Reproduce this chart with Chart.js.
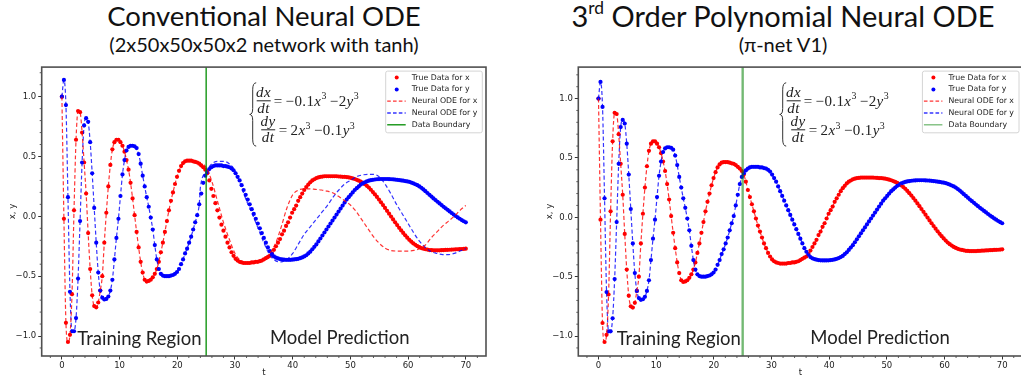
<!DOCTYPE html>
<html>
<head>
<meta charset="utf-8">
<script src="https://cdn.jsdelivr.net/npm/chart.js@4.4.1/dist/chart.umd.min.js"></script>
<style>
html, body { margin: 0; padding: 0; background: #fff; width: 1021px; height: 387px; overflow: hidden; position: relative; }
.title { position: absolute; text-align: center; color: #111; white-space: nowrap; font-family: Lato, sans-serif; line-height: 1; }
.title sup { font-size: 0.6em; vertical-align: 0.75em; line-height: 0; }
.box { position: absolute; }
</style>
</head>
<body>
<div class="title" style="left:14px;width:500px;top:2px;font-size:27.5px;">Conventional Neural ODE</div>
<div class="title" style="left:14px;width:500px;top:34px;font-size:20px;">(2x50x50x50x2 network with tanh)</div>
<div class="title" style="left:533px;width:500px;top:1px;font-size:29px;">3<sup>rd</sup> Order Polynomial Neural ODE</div>
<div class="title" style="left:533px;width:500px;top:34px;font-size:20px;">(π-net V1)</div>
<div class="box" style="left:0;top:60px;width:510px;height:327px"><canvas id="convChart"></canvas></div>
<div class="box" style="left:510px;top:60px;width:530px;height:327px"><canvas id="polyChart"></canvas></div>
<script>
// ---------- values ----------
// sample times of the true trajectory
var tTrue = [0, 0.35, 0.7, 1.05, 1.4, 1.75, 2.1, 2.45, 2.8, 3.15, 3.5, 3.85, 4.2, 4.55, 4.9, 5.25, 5.6, 5.95, 6.3, 6.65,
  7, 7.35, 7.7, 8.05, 8.4, 8.75, 9.1, 9.45, 9.8, 10.15, 10.5, 10.85, 11.2, 11.55, 11.9, 12.25, 12.6, 12.95, 13.3, 13.65,
  14, 14.35, 14.7, 15.05, 15.4, 15.75, 16.1, 16.45, 16.8, 17.15, 17.5, 17.85, 18.2, 18.55, 18.9, 19.25, 19.6, 19.95, 20.3, 20.65,
  21, 21.35, 21.7, 22.05, 22.4, 22.75, 23.1, 23.45, 23.8, 24.15, 24.5, 24.85, 25.2, 25.55, 25.9, 26.25, 26.6, 26.95, 27.3, 27.65,
  28, 28.35, 28.7, 29.05, 29.4, 29.75, 30.1, 30.45, 30.8, 31.15, 31.5, 31.85, 32.2, 32.55, 32.9, 33.25, 33.6, 33.95, 34.3, 34.65,
  35, 35.35, 35.7, 36.05, 36.4, 36.75, 37.1, 37.45, 37.8, 38.15, 38.5, 38.85, 39.2, 39.55, 39.9, 40.25, 40.6, 40.95, 41.3, 41.65,
  42, 42.35, 42.7, 43.05, 43.4, 43.75, 44.1, 44.45, 44.8, 45.15, 45.5, 45.85, 46.2, 46.55, 46.9, 47.25, 47.6, 47.95, 48.3, 48.65,
  49, 49.35, 49.7, 50.05, 50.4, 50.75, 51.1, 51.45, 51.8, 52.15, 52.5, 52.85, 53.2, 53.55, 53.9, 54.25, 54.6, 54.95, 55.3, 55.65,
  56, 56.35, 56.7, 57.05, 57.4, 57.75, 58.1, 58.45, 58.8, 59.15, 59.5, 59.85, 60.2, 60.55, 60.9, 61.25, 61.6, 61.95, 62.3, 62.65,
  63, 63.35, 63.7, 64.05, 64.4, 64.75, 65.1, 65.45, 65.8, 66.15, 66.5, 66.85, 67.2, 67.55, 67.9, 68.25, 68.6, 68.95, 69.3, 69.65, 70];

// true data for x (red dots)
var xTrue = [1.00, -0.02, -0.89, -1.05, -0.99, -0.65, 0.05, 0.64, 0.88, 0.87,
  0.70, 0.45, 0.19, -0.14, -0.44, -0.66, -0.75, -0.76, -0.72, -0.62,
  -0.50, -0.22, 0.03, 0.25, 0.43, 0.56, 0.62, 0.64, 0.64, 0.62,
  0.59, 0.54, 0.47, 0.39, 0.28, 0.15, 0.01, -0.13, -0.26, -0.38,
  -0.47, -0.53, -0.545, -0.54, -0.53, -0.51, -0.48, -0.44, -0.38, -0.30,
  -0.22, -0.13, -0.04, 0.05, 0.13, 0.20, 0.27, 0.33, 0.38, 0.42,
  0.445, 0.46, 0.465, 0.465, 0.465, 0.46, 0.455, 0.45, 0.44, 0.425,
  0.41, 0.39, 0.36, 0.30, 0.23, 0.17, 0.11, 0.05, -0.01, -0.07,
  -0.12, -0.17, -0.22, -0.26, -0.30, -0.33, -0.355, -0.37, -0.38, -0.385,
  -0.39, -0.39, -0.39, -0.39, -0.385, -0.385, -0.38, -0.38, -0.375, -0.37,
  -0.36, -0.35, -0.34, -0.33, -0.31, -0.28, -0.25, -0.22, -0.19, -0.15,
  -0.12, -0.08, -0.05, -0.01, 0.03, 0.06, 0.09, 0.13, 0.16, 0.19,
  0.22, 0.245, 0.265, 0.285, 0.30, 0.31, 0.32, 0.325, 0.33, 0.332,
  0.335, 0.335, 0.335, 0.335, 0.335, 0.335, 0.335, 0.333, 0.332, 0.33,
  0.33, 0.328, 0.325, 0.322, 0.317, 0.312, 0.305, 0.298, 0.29, 0.28,
  0.268, 0.255, 0.24, 0.222, 0.203, 0.183, 0.162, 0.14, 0.117, 0.094,
  0.07, 0.046, 0.022, -0.002, -0.026, -0.05, -0.073, -0.096, -0.118, -0.139,
  -0.159, -0.178, -0.196, -0.212, -0.226, -0.238, -0.249, -0.258, -0.265, -0.271,
  -0.275, -0.278, -0.282, -0.283, -0.284, -0.284, -0.284, -0.284, -0.283, -0.282,
  -0.281, -0.28, -0.279, -0.278, -0.277, -0.276, -0.275, -0.274, -0.273, -0.272, -0.27];

// true data for y (blue dots)
var yTrue = [1.00, 1.14, 0.93, 0.16, -0.63, -0.96, -0.96, -0.85, -0.52, -0.04,
  0.45, 0.76, 0.82, 0.79, 0.62, 0.36, 0.07, -0.22, -0.47, -0.62,
  -0.68, -0.695, -0.69, -0.67, -0.62, -0.53, -0.36, -0.18, -0.02, 0.17,
  0.35, 0.47, 0.55, 0.58, 0.59, 0.59, 0.585, 0.57, 0.52, 0.44,
  0.34, 0.25, 0.16, 0.08, -0.01, -0.11, -0.24, -0.36, -0.44, -0.48,
  -0.495, -0.50, -0.50, -0.50, -0.495, -0.49, -0.48, -0.465, -0.44, -0.40,
  -0.36, -0.31, -0.27, -0.22, -0.17, -0.11, -0.05, 0.01, 0.10, 0.19,
  0.28, 0.34, 0.37, 0.395, 0.41, 0.42, 0.425, 0.425, 0.425, 0.425,
  0.42, 0.42, 0.415, 0.41, 0.40, 0.385, 0.36, 0.33, 0.30, 0.26,
  0.22, 0.18, 0.14, 0.10, 0.06, 0.02, -0.02, -0.06, -0.10, -0.14,
  -0.18, -0.22, -0.26, -0.29, -0.315, -0.335, -0.345, -0.352, -0.357, -0.36,
  -0.362, -0.363, -0.363, -0.363, -0.362, -0.36, -0.358, -0.355, -0.35, -0.343,
  -0.335, -0.325, -0.31, -0.295, -0.275, -0.255, -0.235, -0.21, -0.185, -0.16,
  -0.135, -0.11, -0.085, -0.06, -0.035, -0.01, 0.015, 0.04, 0.065, 0.09,
  0.115, 0.14, 0.16, 0.18, 0.20, 0.22, 0.235, 0.25, 0.265, 0.275,
  0.285, 0.292, 0.298, 0.302, 0.305, 0.308, 0.31, 0.311, 0.312, 0.312,
  0.312, 0.312, 0.311, 0.31, 0.309, 0.307, 0.305, 0.303, 0.30, 0.298,
  0.295, 0.292, 0.288, 0.282, 0.276, 0.268, 0.26, 0.25, 0.238, 0.225,
  0.21, 0.195, 0.18, 0.165, 0.15, 0.136, 0.122, 0.108, 0.094, 0.08,
  0.067, 0.054, 0.041, 0.028, 0.015, 0.003, -0.009, -0.02, -0.031, -0.041, -0.05];

// conventional neural ODE after the training window (where it drifts away)
var tNodeExtra = [24, 25, 26, 27, 28, 29, 30, 31, 32, 33, 34, 35, 36, 37, 38, 39, 40, 41, 42, 43, 44, 45, 46, 47,
  48, 49, 50, 51, 52, 53, 54, 55, 56, 57, 58, 59, 60, 61, 62, 63, 64, 65, 66, 67, 68, 69, 70];
var xNodeExtra = [0.44, 0.41, 0.29, 0.12, -0.05, -0.19, -0.31, -0.37, -0.385, -0.385, -0.375, -0.35, -0.31, -0.23, -0.09, 0.07,
  0.18, 0.22, 0.23, 0.23, 0.225, 0.22, 0.21, 0.195, 0.165, 0.13, 0.095, 0.04, -0.03, -0.10, -0.17, -0.225,
  -0.265, -0.285, -0.29, -0.29, -0.29, -0.285, -0.27, -0.24, -0.18, -0.13, -0.08, -0.04, 0.0, 0.05, 0.09];
var yNodeExtra = [0.24, 0.37, 0.44, 0.46, 0.46, 0.44, 0.38, 0.26, 0.13, 0.02, -0.10, -0.22, -0.32, -0.37, -0.38, -0.36,
  -0.31, -0.23, -0.15, -0.09, -0.03, 0.03, 0.09, 0.16, 0.22, 0.27, 0.30, 0.33, 0.345, 0.35, 0.35, 0.33,
  0.27, 0.19, 0.10, 0.02, -0.06, -0.14, -0.21, -0.26, -0.295, -0.31, -0.32, -0.32, -0.31, -0.29, -0.27];

var boundaryT = 25;
var xTicks = [0, 10, 20, 30, 40, 50, 60, 70];
var yTicks = [-1.0, -0.5, 0.0, 0.5, 1.0];
var legendLabels = ['True Data for x', 'True Data for y', 'Neural ODE for x', 'Neural ODE for y', 'Data Boundary'];

// ---------- helpers ----------
function pts(ts, vs) {
  return ts.map(function (t, i) { return { x: t, y: vs[i] }; });
}

var cut = tTrue.findIndex(function (t) { return t >= 24; });
var nodeXConv = pts(tTrue.slice(0, cut), xTrue.slice(0, cut)).concat(pts(tNodeExtra, xNodeExtra));
var nodeYConv = pts(tTrue.slice(0, cut), yTrue.slice(0, cut)).concat(pts(tNodeExtra, yNodeExtra));

var RED = 'rgb(255,0,0)', BLUE = 'rgb(0,0,255)';
var RED_D = 'rgba(255,0,0,0.8)', BLUE_D = 'rgba(0,0,255,0.8)';

// one line of the equation: upright / italic / superscript pieces
function drawRuns(ctx, x, y, runs, size) {
  runs.forEach(function (r) {
    var fs = r.sup ? size * 0.66 : size;
    ctx.font = (r.it ? 'italic ' : '') + fs + 'px "Liberation Serif"';
    ctx.letterSpacing = r.sup ? '0px' : '0.4px';
    x += r.gap || 0;
    ctx.fillText(r.t, x, r.sup ? y - size * 0.42 : y);
    x += ctx.measureText(r.t).width;
  });
  ctx.letterSpacing = '0px';
}

function drawFrac(ctx, x, w, numY, barY, denY, num, den, size) {
  ctx.font = 'italic ' + size + 'px "Liberation Serif"';
  ctx.letterSpacing = '0.5px';
  ctx.textAlign = 'center';
  ctx.fillText(num, x + w / 2, numY);
  ctx.fillText(den, x + w / 2, denY);
  ctx.textAlign = 'left';
  ctx.letterSpacing = '0px';
  ctx.fillRect(x, barY - 0.5, w, 1);
}

// equation, legend, boundary, captions and frame drawn on top of the data
var decoPlugin = {
  id: 'deco',
  afterDatasetsDraw: function (chart, args, o) {
    var ctx = chart.ctx, ca = chart.chartArea, xs = chart.scales.x;
    ctx.save();
    // data boundary
    var bx = xs.getPixelForValue(boundaryT);
    ctx.strokeStyle = o.green;
    ctx.lineWidth = o.greenW;
    ctx.beginPath(); ctx.moveTo(bx, ca.top); ctx.lineTo(bx, ca.bottom); ctx.stroke();

    // equation
    var ex = ca.left + o.eqX, et = ca.top + 15.7, eb = et + 63.3, em = (et + eb) / 2;
    ctx.strokeStyle = '#333'; ctx.lineWidth = 1;
    ctx.beginPath();
    ctx.moveTo(ex + 4.5, et);
    ctx.quadraticCurveTo(ex + 1, et, ex + 1, et + 7);
    ctx.lineTo(ex + 1, em - 6);
    ctx.quadraticCurveTo(ex + 1, em, ex - 2, em);
    ctx.quadraticCurveTo(ex + 1, em, ex + 1, em + 6);
    ctx.lineTo(ex + 1, eb - 7);
    ctx.quadraticCurveTo(ex + 1, eb, ex + 4.5, eb);
    ctx.stroke();
    ctx.fillStyle = '#222';
    ctx.textBaseline = 'alphabetic';
    var fs = 15;
    drawFrac(ctx, ex + 5, 14, et + 14.5, et + 18, et + 29.8, 'dx', 'dt', fs);
    drawRuns(ctx, ex + 22, et + 22.8, [{ t: '=' }, { t: '−0.1', gap: 3 }, { t: 'x', it: true }, { t: '3', sup: true },
      { t: '−2', gap: 3.5 }, { t: 'y', it: true }, { t: '3', sup: true }], fs);
    drawFrac(ctx, ex + 9.5, 14, et + 43.5, et + 47, et + 58.8, 'dy', 'dt', fs);
    drawRuns(ctx, ex + 27, et + 52, [{ t: '=' }, { t: '2', gap: 3 }, { t: 'x', it: true }, { t: '3', sup: true },
      { t: '−0.1', gap: 3.5 }, { t: 'y', it: true }, { t: '3', sup: true }], fs);

    // captions
    ctx.font = '18.5px Lato';
    ctx.fillStyle = '#222';
    ctx.textAlign = 'left';
    ctx.fillText('Training Region', ca.left + o.trainX, ca.bottom - 11);
    ctx.textAlign = 'center';
    ctx.fillText('Model Prediction', ca.left + o.predX, ca.bottom - 12);

    // legend box
    var w = 96.6, h = 61.7, lx = ca.right - o.legR - w, ly = ca.top + 4;
    ctx.fillStyle = 'rgba(255,255,255,0.85)';
    ctx.strokeStyle = '#d4d4d4';
    ctx.lineWidth = 1;
    ctx.beginPath(); ctx.roundRect(lx, ly, w, h, 2); ctx.fill(); ctx.stroke();
    var kinds = [
      { dot: RED }, { dot: BLUE },
      { line: RED_D, dash: [3.6, 2.2] }, { line: BLUE_D, dash: [3.6, 2.2] },
      { line: o.green, dash: [] }
    ];
    ctx.font = '7.8px "DejaVu Sans"';
    ctx.textBaseline = 'middle';
    ctx.textAlign = 'left';
    kinds.forEach(function (k, i) {
      var ry = ly + 6.5 + i * 11.8;
      if (k.dot) {
        ctx.fillStyle = k.dot;
        ctx.beginPath(); ctx.arc(lx + 11, ry, 2, 0, Math.PI * 2); ctx.fill();
      } else {
        ctx.strokeStyle = k.line;
        ctx.lineWidth = 1.3;
        ctx.setLineDash(k.dash);
        ctx.beginPath(); ctx.moveTo(lx + 1.5, ry); ctx.lineTo(lx + 20, ry); ctx.stroke();
        ctx.setLineDash([]);
      }
      ctx.fillStyle = '#222';
      ctx.fillText(legendLabels[i], lx + 26, ry);
    });
    ctx.restore();
  },
  afterDraw: function (chart) {
    var ctx = chart.ctx, ca = chart.chartArea, xs = chart.scales.x, ys = chart.scales.y;
    ctx.save();
    ctx.strokeStyle = '#333';
    ctx.lineWidth = 0.8;
    ctx.beginPath();
    for (var v = -2; v <= 72; v += 2) {
      if (v % 10 === 0) continue;
      var px = xs.getPixelForValue(v);
      if (px < ca.left || px > ca.right) continue;
      ctx.moveTo(px, ca.bottom); ctx.lineTo(px, ca.bottom + 2);
    }
    for (var k = -11; k <= 12; k++) {
      if (k % 5 === 0) continue;
      var py = ys.getPixelForValue(k / 10);
      if (py < ca.top || py > ca.bottom) continue;
      ctx.moveTo(ca.left, py); ctx.lineTo(ca.left - 2, py);
    }
    ctx.stroke();
    // axes frame
    ctx.strokeStyle = '#505050';
    ctx.lineWidth = 1.6;
    ctx.strokeRect(ca.left, ca.top, ca.right - ca.left, ca.bottom - ca.top);
    ctx.restore();
  }
};

function makeChart(id, nodeX, nodeY, cfg) {
  var tickFont = { family: 'DejaVu Sans', size: 8.5 };
  return new Chart(document.getElementById(id), {
    type: 'scatter',
    data: {
      datasets: [
        { label: legendLabels[2], data: nodeX, showLine: true, pointRadius: 0, borderColor: RED_D,
          borderWidth: 1.2, borderDash: [4, 2.5], cubicInterpolationMode: 'monotone', order: 1 },
        { label: legendLabels[3], data: nodeY, showLine: true, pointRadius: 0, borderColor: BLUE_D,
          borderWidth: 1.2, borderDash: [4, 2.5], cubicInterpolationMode: 'monotone', order: 2 },
        { label: legendLabels[0], data: pts(tTrue, xTrue), pointRadius: 2.1, pointBorderWidth: 0,
          pointBackgroundColor: RED, order: 4 },
        { label: legendLabels[1], data: pts(tTrue, yTrue), pointRadius: 2.1, pointBorderWidth: 0,
          pointBackgroundColor: BLUE, order: 3 }
      ]
    },
    options: {
      responsive: true,
      maintainAspectRatio: false,
      animation: false,
      events: [],
      layout: { padding: { left: 0, right: cfg.padR, top: 6, bottom: 0 } },
      plugins: {
        legend: { display: false },
        tooltip: { enabled: false },
        deco: cfg.deco
      },
      scales: {
        x: {
          type: 'linear', min: -3.5, max: 73.5,
          afterBuildTicks: function (s) { s.ticks = xTicks.map(function (v) { return { value: v }; }); },
          afterFit: function (s) { s.height = 31; },
          ticks: { font: tickFont, color: '#222', padding: 1, autoSkip: false, maxRotation: 0,
            callback: function (v) { return String(v); } },
          grid: { drawOnChartArea: false, drawTicks: true, tickLength: 3.5, tickColor: '#333' },
          border: { display: false },
          title: { display: true, text: 't', font: tickFont, color: '#222', padding: { top: 0, bottom: 9 } }
        },
        y: {
          type: 'linear', min: cfg.yMin, max: cfg.yMax,
          afterBuildTicks: function (s) { s.ticks = yTicks.map(function (v) { return { value: v }; }); },
          afterFit: function (s) { s.width = cfg.yW; },
          ticks: { font: tickFont, color: '#222', padding: 2, autoSkip: false,
            callback: function (v) { return v.toFixed(1).replace('-', '−'); } },
          grid: { drawOnChartArea: false, drawTicks: true, tickLength: 3.5, tickColor: '#333' },
          border: { display: false },
          title: { display: true, text: 'x, y', font: tickFont, color: '#222',
            padding: { top: cfg.yTitlePad, bottom: 0 } }
        }
      }
    },
    plugins: [decoPlugin]
  });
}

makeChart('convChart', nodeXConv, nodeYConv, {
  padR: 24, yW: 41.7, yMin: -1.167, yMax: 1.247, yTitlePad: 8,
  deco: { green: 'rgb(0,140,0)', greenW: 1.3, eqX: 210, trainX: 35.6, predX: 298, legR: 3.7 }
});

makeChart('polyChart', pts(tTrue, xTrue), pts(tTrue, yTrue), {
  padR: 17.6, yW: 68.3, yMin: -1.168, yMax: 1.265, yTitlePad: 35,
  deco: { green: 'rgba(0,128,0,0.55)', greenW: 2.4, eqX: 203.4, trainX: 38.4, predX: 301.7, legR: 3.4 }
});
</script>
</body>
</html>
